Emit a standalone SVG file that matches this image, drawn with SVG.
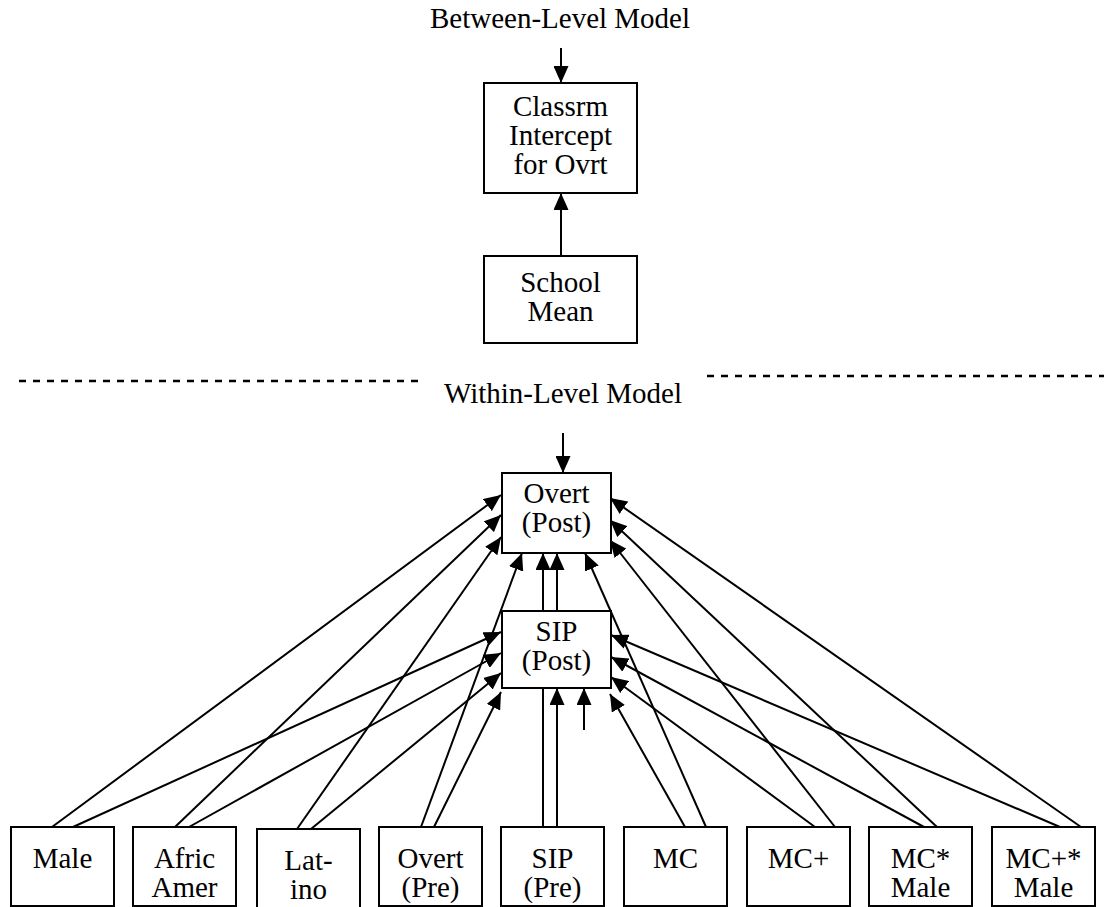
<svg xmlns="http://www.w3.org/2000/svg" width="1111" height="907" viewBox="0 0 1111 907">
<style>
.box{fill:#fff;stroke:#000;stroke-width:2}
.t{font-family:"Liberation Serif","Times New Roman",serif;font-size:29px;fill:#000;text-anchor:middle}
.c line{stroke:#000;stroke-width:2}
.a{marker-end:url(#ah)}
.dash{stroke:#000;stroke-width:2.5;stroke-dasharray:7 7}
</style>
<defs>
<marker id="ah" markerUnits="userSpaceOnUse" markerWidth="17" markerHeight="15" refX="17" refY="7.5" orient="auto">
<path d="M0,0 L17,7.5 L0,15 z" fill="#000"/>
</marker>
</defs>
<rect width="1111" height="907" fill="#fff"/>
<text class="t" x="560" y="28">Between-Level Model</text>
<line class="dash" x1="19" y1="381" x2="418" y2="381"/>
<line class="dash" x1="707" y1="376" x2="1104" y2="376"/>
<text class="t" x="563" y="403">Within-Level Model</text>
<g id="connectors" class="c">
<line class="a" x1="561" y1="48" x2="561" y2="83"/>
<line class="a" x1="561" y1="256" x2="561" y2="193"/>
<line class="a" x1="563" y1="433" x2="563" y2="473"/>
<line class="a" x1="52" y1="827" x2="501" y2="495"/>
<line class="a" x1="73" y1="827" x2="501" y2="632"/>
<line class="a" x1="175" y1="827" x2="501" y2="515"/>
<line class="a" x1="189" y1="827" x2="501" y2="653"/>
<line class="a" x1="297" y1="829" x2="501" y2="537"/>
<line class="a" x1="311" y1="829" x2="501" y2="673"/>
<line class="a" x1="421" y1="827" x2="522" y2="553"/>
<line class="a" x1="434" y1="827" x2="501" y2="692"/>
<line class="a" x1="543" y1="827" x2="543" y2="553"/>
<line class="a" x1="557" y1="827" x2="557" y2="688"/>
<line class="a" x1="557" y1="611" x2="557" y2="553"/>
<line class="a" x1="584" y1="730" x2="584" y2="688"/>
<line class="a" x1="685" y1="827" x2="610" y2="694"/>
<line class="a" x1="706" y1="827" x2="585" y2="553"/>
<line class="a" x1="815" y1="827" x2="611" y2="677"/>
<line class="a" x1="835" y1="827" x2="610" y2="540"/>
<line class="a" x1="924" y1="827" x2="611" y2="657"/>
<line class="a" x1="937" y1="827" x2="610" y2="520"/>
<line class="a" x1="1060" y1="827" x2="611" y2="635"/>
<line class="a" x1="1081" y1="827" x2="610" y2="498"/>
</g>
<g id="classrm"><rect class="box" x="484" y="83" width="153" height="110"/>
<text class="t" x="560.5" y="116">Classrm</text><text class="t" x="560.5" y="145">Intercept</text><text class="t" x="560.5" y="174">for Ovrt</text></g>
<g id="school"><rect class="box" x="484" y="256" width="153" height="87"/>
<text class="t" x="560.5" y="292">School</text><text class="t" x="560.5" y="321">Mean</text></g>
<g id="overtpost"><rect class="box" x="502" y="473" width="109" height="80"/>
<text class="t" x="556.5" y="503">Overt</text><text class="t" x="556.5" y="532">(Post)</text></g>
<g id="sippost"><rect class="box" x="502" y="611" width="109" height="77"/>
<text class="t" x="556.5" y="641">SIP</text><text class="t" x="556.5" y="670">(Post)</text></g>
<g id="male"><rect class="box" x="11" y="827" width="103" height="79"/><text class="t" x="62.5" y="868">Male</text></g>
<g id="africamer"><rect class="box" x="133" y="827" width="103" height="79"/><text class="t" x="184.5" y="868">Afric</text><text class="t" x="184.5" y="897">Amer</text></g>
<g id="latino"><rect class="box" x="257" y="829" width="103" height="79"/><text class="t" x="308.5" y="870">Lat-</text><text class="t" x="308.5" y="899">ino</text></g>
<g id="overtpre"><rect class="box" x="379" y="827" width="103" height="79"/><text class="t" x="430.5" y="868">Overt</text><text class="t" x="430.5" y="897">(Pre)</text></g>
<g id="sippre"><rect class="box" x="501" y="827" width="103" height="79"/><text class="t" x="552.5" y="868">SIP</text><text class="t" x="552.5" y="897">(Pre)</text></g>
<g id="mc"><rect class="box" x="624" y="827" width="103" height="79"/><text class="t" x="675.5" y="868">MC</text></g>
<g id="mcplus"><rect class="box" x="747" y="827" width="103" height="79"/><text class="t" x="798.5" y="868">MC+</text></g>
<g id="mcmale"><rect class="box" x="869" y="827" width="103" height="79"/><text class="t" x="920.5" y="868">MC*</text><text class="t" x="920.5" y="897">Male</text></g>
<g id="mcplusmale"><rect class="box" x="992" y="827" width="103" height="79"/><text class="t" x="1043.5" y="868">MC+*</text><text class="t" x="1043.5" y="897">Male</text></g>
</svg>
